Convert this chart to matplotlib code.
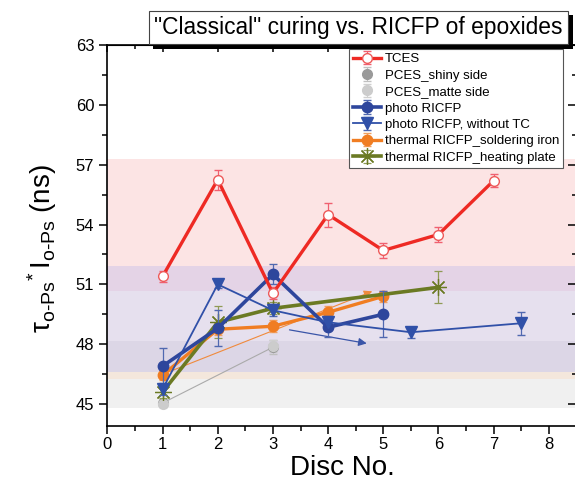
import matplotlib
matplotlib.use("Agg")
import matplotlib.pyplot as plt
import matplotlib.patheffects as pe
from matplotlib.ticker import MultipleLocator

plt.rcParams['font.family'] = ['Liberation Sans', 'DejaVu Sans']
plt.rcParams['mathtext.fontset'] = 'custom'
plt.rcParams['mathtext.rm'] = 'Liberation Sans'
plt.rcParams['mathtext.it'] = 'Liberation Sans:italic'
plt.rcParams['mathtext.default'] = 'regular'

# TCES
tces_x = [1, 2, 3, 4, 5, 6, 7]
tces_y = [51.4, 56.25, 50.55, 54.5, 52.7, 53.5, 56.2]
tces_err = [0.28, 0.5, 0.3, 0.6, 0.36, 0.4, 0.33]

# PCES
shiny_x = [1, 3]
shiny_y = [45.05, 47.85]
shiny_err = [0.2, 0.36]
matte_x = [1, 3]
matte_y = [45.0, 47.9]
matte_err = [0.15, 0.3]

# photo RICFP
photo_x = [1, 2, 3, 4, 5]
photo_y = [46.9, 48.8, 51.5, 48.85, 49.5]
photo_err = [0.9, 0.9, 0.5, 0.5, 1.15]

photo_notc_x = [1, 2, 3, 4, 5.5, 7.5]
photo_notc_y = [45.75, 51.0, 49.7, 49.1, 48.6, 49.05]
photo_notc_err = [0.3, 0.2, 0.3, 0.3, 0.27, 0.58]

# thermal RICFP
solder_x = [1, 2, 3, 4, 5]
solder_y = [46.45, 48.75, 48.9, 49.6, 50.4]
solder_err = [0.25, 0.3, 0.3, 0.33, 0.28]

plate_x = [1, 2, 3, 6]
plate_y = [45.6, 49.1, 49.8, 50.85]
plate_err = [0.3, 0.8, 0.3, 0.8]

# shaded ranges
band_lo = [44.8, 46.25, 46.62, 48.17, 50.68, 51.9]
band_hi = [46.25, 46.62, 48.17, 50.68, 51.9, 57.3]
band_colors = ['#f0f0f0', '#f4e7dc', '#dcd6e6', '#e6e0ee', '#e4d3e6', '#fce4e4']

# trend arrows (start, end)
arrow_orange = [(1.1, 46.6), (4.8, 50.65)]
arrow_blue = [(3.3, 48.72), (4.7, 48.04)]
gray_link = [(1, 45.05), (3, 47.85)]

fig = plt.figure(figsize=(5.75, 4.9), dpi=100)
ax = fig.add_axes([107.4 / 575, 64 / 490, 469 / 575, 381 / 490])

for lo, hi, c in zip(band_lo, band_hi, band_colors):
    ax.axhspan(lo, hi, color=c, lw=0, zorder=0)

# thin link lines / arrows
ax.plot([gray_link[0][0], gray_link[1][0]], [gray_link[0][1], gray_link[1][1]],
        color='#aaaaaa', lw=0.8, zorder=1)
ax.annotate('', xy=arrow_orange[1], xytext=arrow_orange[0],
            arrowprops=dict(arrowstyle='-|>', color='#f08a3c', lw=0.8,
                            mutation_scale=12, shrinkA=0, shrinkB=0), zorder=1)
ax.annotate('', xy=arrow_blue[1], xytext=arrow_blue[0],
            arrowprops=dict(arrowstyle='-|>', color='#3a55a8', lw=0.9,
                            mutation_scale=12, shrinkA=0, shrinkB=0), zorder=1)

ax.errorbar(shiny_x, shiny_y, yerr=shiny_err, fmt='o', color='#9a9a9a', ms=7,
            ecolor='#c0c0c0', elinewidth=0.8, capsize=3, label='PCES_shiny side', zorder=2)
ax.errorbar(matte_x, matte_y, yerr=matte_err, fmt='o', color='#cccccc', ms=7,
            ecolor='#d0d0d0', elinewidth=0.8, capsize=3, label='PCES_matte side', zorder=2)

ax.errorbar(solder_x, solder_y, yerr=solder_err, fmt='-o', color='#f07d22', lw=2.4, ms=7.5,
            ecolor='#f0a060', elinewidth=0.9, capsize=3,
            label='thermal RICFP_soldering iron', zorder=3)
ax.errorbar(plate_x, plate_y, yerr=plate_err, fmt='-', color='#6b7a23', lw=2.6,
            marker=(8, 2, 0), ms=12, mew=0.9, ecolor='#8f9a55', elinewidth=0.9, capsize=3,
            label='thermal RICFP_heating plate', zorder=3)
ax.errorbar(photo_x, photo_y, yerr=photo_err, fmt='-o', color='#2e469c', lw=2.6, ms=7.5,
            ecolor='#5068b0', elinewidth=0.9, capsize=3, label='photo RICFP', zorder=4)
ax.errorbar(photo_notc_x, photo_notc_y, yerr=photo_notc_err, fmt='-v', color='#3050a8', lw=1.3,
            ms=8, ecolor='#5068b0', elinewidth=0.9, capsize=3,
            label='photo RICFP, without TC', zorder=4)
ax.errorbar(tces_x, tces_y, yerr=tces_err, fmt='-o', color='#ee2a24', lw=2.4, ms=7,
            mfc='white', mec='#ee5a5a', mew=1.0, ecolor='#f06070', elinewidth=0.9, capsize=3,
            label='TCES', zorder=5)

ax.set_xlim(0, 8.5)
ax.set_ylim(43.9, 63)
ax.set_xticks(range(0, 9))
ax.set_yticks([45, 48, 51, 54, 57, 60, 63])
ax.xaxis.set_minor_locator(MultipleLocator(0.5))
ax.yaxis.set_minor_locator(MultipleLocator(1.5))
ax.tick_params(which='both', direction='out', width=1.1, labelsize=12)
ax.tick_params(which='major', length=6)
ax.tick_params(which='minor', length=3.5)
ax.tick_params(axis='x', which='major', pad=2)
for s in ax.spines.values():
    s.set_linewidth(1.2)

top = ax.secondary_xaxis('top')
top.set_xticks(range(0, 9))
top.xaxis.set_minor_locator(MultipleLocator(0.5))
top.tick_params(which='both', direction='in', labeltop=False, width=1.1)
top.tick_params(which='major', length=5)
top.tick_params(which='minor', length=3)
right = ax.secondary_yaxis('right')
right.set_yticks([45, 48, 51, 54, 57, 60, 63])
right.yaxis.set_minor_locator(MultipleLocator(1.5))
right.tick_params(which='both', direction='in', labelright=False, width=1.1)
right.tick_params(which='major', length=6)
right.tick_params(which='minor', length=3)

ax.set_xlabel('Disc No.', fontsize=20, labelpad=2)
ax.set_ylabel(r'$\tau_{\text{o-Ps}}{}^{*}\,I_{\text{o-Ps}}$ (ns)', fontsize=20)
ax.yaxis.set_label_coords(-0.104, 0.465)

handles, labels = ax.get_legend_handles_labels()
order = ['TCES', 'PCES_shiny side', 'PCES_matte side', 'photo RICFP',
         'photo RICFP, without TC', 'thermal RICFP_soldering iron', 'thermal RICFP_heating plate']
hmap = dict(zip(labels, handles))
leg = ax.legend([hmap[k] for k in order], order, loc='upper right',
                bbox_to_anchor=(563 / 575, 1 - 49 / 490), bbox_transform=fig.transFigure,
                borderaxespad=0, fontsize=9.5, frameon=True, fancybox=False,
                edgecolor='#555555', framealpha=1, handlelength=2.1, handletextpad=0.3,
                labelspacing=0.32, borderpad=0.3)
leg.get_frame().set_linewidth(0.8)
leg.set_zorder(10)

title = fig.text(358.5 / 575, 1 - 27.5 / 490, '"Classical" curing vs. RICFP of epoxides',
                 ha='center', va='center', fontsize=16.4,
                 bbox=dict(boxstyle='square,pad=0.24', fc='white', ec='#444444', lw=0.8))
title.get_bbox_patch().set_path_effects(
    [pe.SimplePatchShadow(offset=(3.2, -3.2), shadow_rgbFace='black', alpha=1), pe.Normal()])

fig.savefig('out.png', dpi=100)
